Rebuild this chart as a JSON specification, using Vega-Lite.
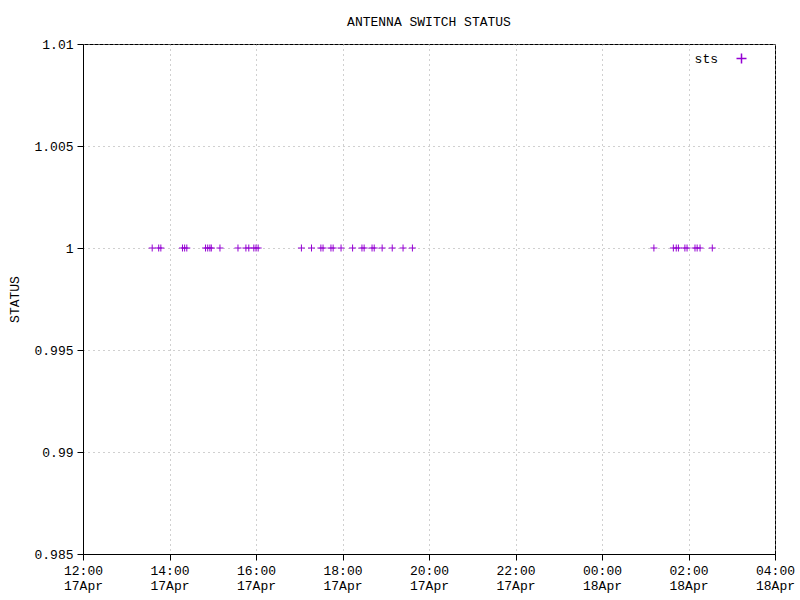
{
  "$schema": "https://vega.github.io/schema/vega-lite/v6.json",
  "autosize": "none",
  "width": 692,
  "height": 510,
  "padding": {"left": 83, "top": 44, "right": 25, "bottom": 46},
  "background": "white",
  "config": {
    "view": {"stroke": "black", "strokeWidth": 1},
    "axis": {"labelFont": "Liberation Mono", "labelFontSize": 13, "labelColor": "black", "titleFont": "Liberation Mono", "titleFontSize": 13, "titleFontWeight": "normal", "titleColor": "black", "domainColor": "black", "tickColor": "black", "gridColor": "#a0a0a0", "gridDash": [1, 4]}
  },
  "title": {"text": "ANTENNA SWITCH STATUS", "font": "Liberation Mono", "fontSize": 13, "fontWeight": "normal", "color": "black", "offset": 9},
  "data": {"values": [
    {"t": "2024-04-17T13:36:00Z", "status": 1, "series": "sts"},
    {"t": "2024-04-17T13:45:00Z", "status": 1, "series": "sts"},
    {"t": "2024-04-17T13:48:00Z", "status": 1, "series": "sts"},
    {"t": "2024-04-17T14:18:00Z", "status": 1, "series": "sts"},
    {"t": "2024-04-17T14:21:00Z", "status": 1, "series": "sts"},
    {"t": "2024-04-17T14:24:00Z", "status": 1, "series": "sts"},
    {"t": "2024-04-17T14:50:00Z", "status": 1, "series": "sts"},
    {"t": "2024-04-17T14:53:00Z", "status": 1, "series": "sts"},
    {"t": "2024-04-17T14:56:00Z", "status": 1, "series": "sts"},
    {"t": "2024-04-17T14:58:00Z", "status": 1, "series": "sts"},
    {"t": "2024-04-17T15:10:00Z", "status": 1, "series": "sts"},
    {"t": "2024-04-17T15:35:00Z", "status": 1, "series": "sts"},
    {"t": "2024-04-17T15:46:00Z", "status": 1, "series": "sts"},
    {"t": "2024-04-17T15:50:00Z", "status": 1, "series": "sts"},
    {"t": "2024-04-17T15:57:00Z", "status": 1, "series": "sts"},
    {"t": "2024-04-17T16:00:00Z", "status": 1, "series": "sts"},
    {"t": "2024-04-17T16:03:00Z", "status": 1, "series": "sts"},
    {"t": "2024-04-17T17:03:00Z", "status": 1, "series": "sts"},
    {"t": "2024-04-17T17:17:00Z", "status": 1, "series": "sts"},
    {"t": "2024-04-17T17:30:00Z", "status": 1, "series": "sts"},
    {"t": "2024-04-17T17:33:00Z", "status": 1, "series": "sts"},
    {"t": "2024-04-17T17:44:00Z", "status": 1, "series": "sts"},
    {"t": "2024-04-17T17:47:00Z", "status": 1, "series": "sts"},
    {"t": "2024-04-17T17:58:00Z", "status": 1, "series": "sts"},
    {"t": "2024-04-17T18:14:00Z", "status": 1, "series": "sts"},
    {"t": "2024-04-17T18:27:00Z", "status": 1, "series": "sts"},
    {"t": "2024-04-17T18:30:00Z", "status": 1, "series": "sts"},
    {"t": "2024-04-17T18:41:00Z", "status": 1, "series": "sts"},
    {"t": "2024-04-17T18:44:00Z", "status": 1, "series": "sts"},
    {"t": "2024-04-17T18:55:00Z", "status": 1, "series": "sts"},
    {"t": "2024-04-17T19:09:00Z", "status": 1, "series": "sts"},
    {"t": "2024-04-17T19:24:00Z", "status": 1, "series": "sts"},
    {"t": "2024-04-17T19:37:00Z", "status": 1, "series": "sts"},
    {"t": "2024-04-18T01:12:00Z", "status": 1, "series": "sts"},
    {"t": "2024-04-18T01:39:00Z", "status": 1, "series": "sts"},
    {"t": "2024-04-18T01:43:00Z", "status": 1, "series": "sts"},
    {"t": "2024-04-18T01:46:00Z", "status": 1, "series": "sts"},
    {"t": "2024-04-18T01:55:00Z", "status": 1, "series": "sts"},
    {"t": "2024-04-18T01:58:00Z", "status": 1, "series": "sts"},
    {"t": "2024-04-18T02:09:00Z", "status": 1, "series": "sts"},
    {"t": "2024-04-18T02:12:00Z", "status": 1, "series": "sts"},
    {"t": "2024-04-18T02:16:00Z", "status": 1, "series": "sts"},
    {"t": "2024-04-18T02:33:00Z", "status": 1, "series": "sts"}
  ]},
  "mark": {"type": "point", "shape": "M-1,0H1M0,-1V1", "filled": false, "strokeWidth": 1, "size": 49, "opacity": 1},
  "encoding": {
    "x": {"field": "t", "type": "temporal",
      "scale": {"domain": [1713355200000, 1713412800000], "nice": false},
      "axis": {"title": null,
        "values": [1713355200000, 1713362400000, 1713369600000, 1713376800000, 1713384000000, 1713391200000, 1713398400000, 1713405600000, 1713412800000],
        "labelExpr": "[utcFormat(datum.value, '%H:%M'), utcFormat(datum.value, '%d%b')]",
        "labelPadding": 4, "labelLineHeight": 15, "labelFlush": false, "labelOverlap": false,
        "tickSize": 6, "grid": true}},
    "y": {"field": "status", "type": "quantitative",
      "scale": {"domain": [0.985, 1.01], "nice": false, "zero": false},
      "axis": {"title": "STATUS", "values": [0.985, 0.99, 0.995, 1, 1.005, 1.01],
        "labelExpr": "datum.value > 1.0075 ? '1.01' : datum.value > 1.0025 ? '1.005' : datum.value > 0.9975 ? '1' : datum.value > 0.9925 ? '0.995' : datum.value > 0.9875 ? '0.99' : '0.985'",
        "tickSize": 6, "labelPadding": 4, "grid": true, "titlePadding": 12}},
    "color": {"field": "series", "type": "nominal", "scale": {"range": ["#9400d3"]},
      "legend": {"title": null, "orient": "none", "legendX": 652, "legendY": 8, "padding": 0, "labelAlign": "right", "labelOffset": -30, "labelFont": "Liberation Mono", "labelFontSize": 13, "labelColor": "black"}}
  }
}
